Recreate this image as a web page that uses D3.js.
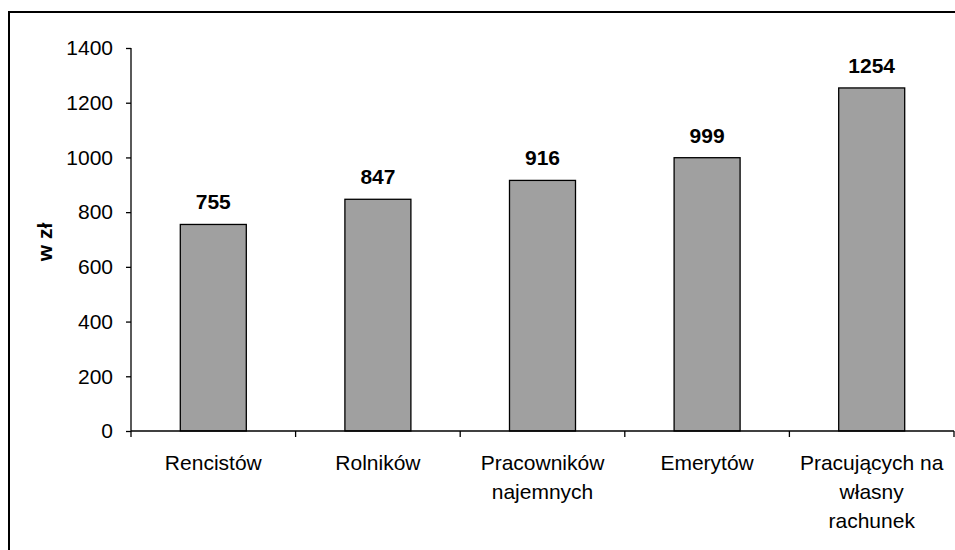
<!DOCTYPE html>
<html>
<head>
<meta charset="utf-8">
<script src="https://cdn.jsdelivr.net/npm/d3@7"></script>
<style>
    body { margin: 0; background: #fff; }
    svg { display: block; font-family: "Liberation Sans", Arial, sans-serif; }
</style>
</head>
<body>
<div id="chart"></div>
<script>
// categories and values
var categories = ["Rencistów", "Rolników", "Pracowników najemnych", "Emerytów", "Pracujących na własny rachunek"];
var categoryLines = [["Rencistów"], ["Rolników"], ["Pracowników", "najemnych"], ["Emerytów"], ["Pracujących na", "własny", "rachunek"]];
var values = [755, 847, 916, 999, 1254];
var yTicks = [0, 200, 400, 600, 800, 1000, 1200, 1400];

var width = 955, height = 550;
var margin = {left: 131, right: 1, top: 48, bottom: 119};
var fontSize = "21px";

var svg = d3.select("#chart").append("svg")
    .attr("width", width)
    .attr("height", height);

// frame round the chart area (right and bottom edges fall outside the picture)
svg.append("rect")
    .attr("x", 9)
    .attr("y", 12)
    .attr("width", width + 10)
    .attr("height", height + 10)
    .attr("fill", "none")
    .attr("stroke", "#000")
    .attr("stroke-width", 2);

var x = d3.scaleBand()
    .domain(categories)
    .range([margin.left, width - margin.right]);

var y = d3.scaleLinear()
    .domain([0, 1400])
    .range([height - margin.bottom, margin.top]);

var barWidth = 66;

// bars
svg.append("g").selectAll("rect")
    .data(values)
    .join("rect")
    .attr("x", (d, i) => x(categories[i]) + (x.bandwidth() - barWidth) / 2)
    .attr("width", barWidth)
    .attr("y", d => y(d))
    .attr("height", d => y(0) - y(d))
    .attr("fill", "#a0a0a0")
    .attr("stroke", "#000")
    .attr("stroke-width", 1.3);

// value labels
svg.append("g").selectAll("text")
    .data(values)
    .join("text")
    .attr("x", (d, i) => x(categories[i]) + x.bandwidth() / 2)
    .attr("y", d => y(d) - 15)
    .attr("text-anchor", "middle")
    .attr("font-size", fontSize)
    .attr("font-weight", "bold")
    .text(d => d);

// y axis
var yAxis = svg.append("g")
    .attr("transform", "translate(" + margin.left + ",0)")
    .call(d3.axisLeft(y).tickValues(yTicks).tickSize(5).tickPadding(13).tickFormat(d3.format("d")));
yAxis.attr("font-size", null).attr("font-family", null);
yAxis.selectAll("text").attr("font-size", fontSize).attr("fill", "#000");
yAxis.selectAll("line, path").attr("stroke", "#000").attr("stroke-width", 1.3);
yAxis.select(".domain").attr("d", "M0," + y(1400) + "V" + y(0));

// x axis: ticks at the category boundaries
var boundaries = categories.map(c => x(c)).concat([x.range()[1]]);
var xAxis = svg.append("g");
xAxis.append("line")
    .attr("x1", margin.left).attr("x2", width - margin.right)
    .attr("y1", y(0)).attr("y2", y(0))
    .attr("stroke", "#000").attr("stroke-width", 1.3);
xAxis.selectAll("line.tick")
    .data(boundaries)
    .join("line")
    .attr("class", "tick")
    .attr("x1", d => d).attr("x2", d => d)
    .attr("y1", y(0)).attr("y2", y(0) + 6)
    .attr("stroke", "#000").attr("stroke-width", 1.3);

// category labels
svg.append("g").selectAll("text")
    .data(categoryLines)
    .join("text")
    .attr("text-anchor", "middle")
    .attr("font-size", fontSize)
    .attr("fill", "#000")
    .each(function(lines, i) {
        d3.select(this).selectAll("tspan")
            .data(lines)
            .join("tspan")
            .attr("x", x(categories[i]) + x.bandwidth() / 2)
            .attr("y", (l, j) => y(0) + 39 + j * 29)
            .text(l => l);
    });

// axis title
svg.append("text")
    .attr("transform", "translate(52,242) rotate(-90)")
    .attr("text-anchor", "middle")
    .attr("font-size", fontSize)
    .attr("font-weight", "bold")
    .text("w zł");
</script>
</body>
</html>
